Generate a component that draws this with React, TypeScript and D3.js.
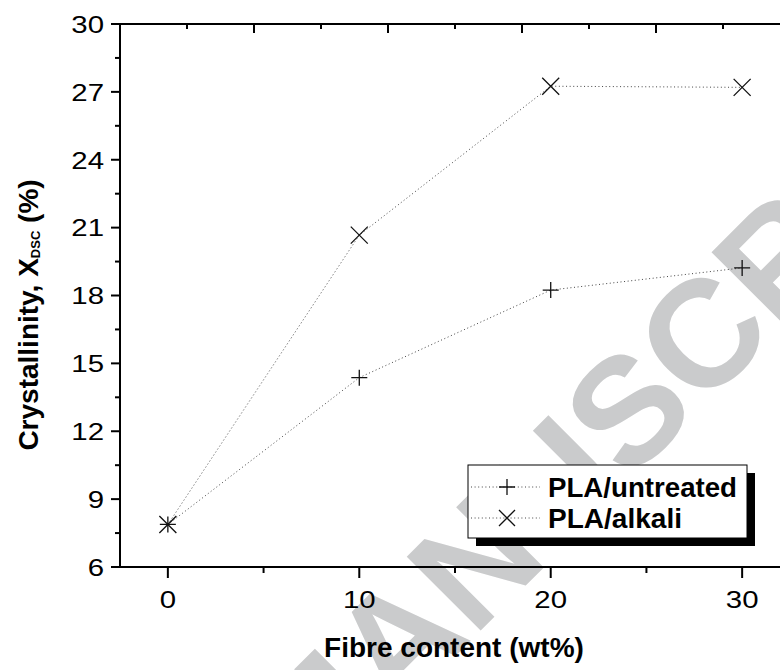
import React, { useEffect, useRef } from 'react';
import * as d3 from 'd3';

// fibre content (wt%)
const fibre = [0, 10, 20, 30];
const untreated = [7.88, 14.37, 18.24, 19.22];
const alkali = [7.88, 20.67, 27.25, 27.2];
const seriesNames = ['PLA/untreated', 'PLA/alkali'];
const yTicks = [6, 9, 12, 15, 18, 21, 24, 27, 30];
const xTicks = [0, 10, 20, 30];
const watermark = 'ACCEPTED MANUSCRIPT';

const FONT = '"Liberation Sans", Arial, sans-serif';

const App = () => {
  const svgRef = useRef<SVGSVGElement>(null);

  useEffect(() => {
    const svg = d3.select(svgRef.current);
    svg.selectAll('*').remove();

    const width = 780, height = 670;
    const left = 120, right = 790, top = 24, bottom = 567;

    const x = d3.scaleLinear().domain([-2.5, 32.5]).range([left, right]);
    const y = d3.scaleLinear().domain([6, 30]).range([bottom, top]);
    const xTop = d3.scaleLinear().domain([0, 10]).range([left, right]);

    svg.attr('width', width).attr('height', height);

    // watermark, the "S" of MANUSCRIPT centred near (626,408)
    const wg = svg.append('g').attr('transform', 'translate(626,408) rotate(-45)');
    const wt = wg.append('text')
      .attr('font-family', FONT)
      .attr('font-weight', 'bold')
      .attr('font-size', 152)
      .attr('fill', '#cacbcc')
      .attr('dy', '0.36em')
      .text(watermark);
    const tn = wt.node() as SVGTextElement;
    const s = tn.getStartPositionOfChar(13);
    const e = tn.getEndPositionOfChar(13);
    wt.attr('x', -(s.x + e.x) / 2);

    // data lines
    const line = d3.line<number>().x((d, i) => x(fibre[i])).y(d => y(d));
    [untreated, alkali].forEach(vals => {
      svg.append('path')
        .attr('d', line(vals))
        .attr('fill', 'none')
        .attr('stroke', '#444')
        .attr('stroke-width', 1)
        .attr('stroke-dasharray', '1,2.6');
    });

    const plus = (g, cx, cy, r) => {
      g.append('path')
        .attr('d', `M${cx - r},${cy}H${cx + r}M${cx},${cy - r}V${cy + r}`)
        .attr('stroke', '#111').attr('stroke-width', 1.3).attr('fill', 'none');
    };
    const cross = (g, cx, cy, r) => {
      g.append('path')
        .attr('d', `M${cx - r},${cy - r}L${cx + r},${cy + r}M${cx - r},${cy + r}L${cx + r},${cy - r}`)
        .attr('stroke', '#111').attr('stroke-width', 1.3).attr('fill', 'none');
    };

    untreated.forEach((v, i) => plus(svg, x(fibre[i]), y(v), 8));
    alkali.forEach((v, i) => cross(svg, x(fibre[i]), y(v), 8.5));

    // axes lines
    svg.append('line').attr('x1', left).attr('x2', left).attr('y1', top - 1).attr('y2', bottom + 1)
      .attr('stroke', '#000').attr('stroke-width', 2);
    svg.append('line').attr('x1', 111).attr('x2', right).attr('y1', bottom).attr('y2', bottom)
      .attr('stroke', '#000').attr('stroke-width', 2);
    svg.append('line').attr('x1', 111).attr('x2', right).attr('y1', top).attr('y2', top)
      .attr('stroke', '#000').attr('stroke-width', 2);

    // y ticks
    d3.range(6, 30.01, 1.5).forEach(v => {
      const major = v % 3 === 0;
      svg.append('line')
        .attr('x1', major ? 111 : 115).attr('x2', left)
        .attr('y1', y(v)).attr('y2', y(v))
        .attr('stroke', '#000').attr('stroke-width', 2);
    });
    yTicks.forEach(v => {
      svg.append('text')
        .attr('transform', `translate(104,${y(v)}) scale(1.2,1)`)
        .attr('dy', '0.36em')
        .attr('text-anchor', 'end')
        .attr('font-family', FONT)
        .attr('font-size', 24.5)
        .text(v);
    });

    // x ticks
    d3.range(0, 32.5, 5).forEach(v => {
      const major = v % 10 === 0;
      svg.append('line')
        .attr('x1', x(v)).attr('x2', x(v))
        .attr('y1', bottom).attr('y2', bottom + (major ? 11 : 6))
        .attr('stroke', '#000').attr('stroke-width', 2);
    });
    xTicks.forEach(v => {
      svg.append('text')
        .attr('transform', `translate(${x(v)},608) scale(1.2,1)`)
        .attr('text-anchor', 'middle')
        .attr('font-family', FONT)
        .attr('font-size', 24.5)
        .text(v);
    });

    // top ticks
    d3.range(1, 10).forEach(v => {
      const major = v % 2 === 0;
      svg.append('line')
        .attr('x1', xTop(v)).attr('x2', xTop(v))
        .attr('y1', top).attr('y2', top + (major ? 9 : 5))
        .attr('stroke', '#000').attr('stroke-width', 2);
    });

    // axis titles
    svg.append('text')
      .attr('x', 454)
      .attr('y', 657)
      .attr('text-anchor', 'middle')
      .attr('font-family', FONT)
      .attr('font-weight', 'bold')
      .attr('font-size', 28)
      .text('Fibre content (wt%)');

    const yt = svg.append('text')
      .attr('transform', 'translate(38,315) rotate(-90)')
      .attr('text-anchor', 'middle')
      .attr('font-family', FONT)
      .attr('font-weight', 'bold')
      .attr('font-size', 28);
    yt.append('tspan').text('Crystallinity, X');
    yt.append('tspan').attr('font-size', 13).attr('dy', 2).text('DSC');
    yt.append('tspan').attr('dy', -2).text(' (%)');

    // legend
    const lx = 468, ly = 465, lw = 279, lh = 73;
    svg.append('rect').attr('x', lx + 8).attr('y', ly + 8).attr('width', lw).attr('height', lh).attr('fill', '#000');
    svg.append('rect').attr('x', lx).attr('y', ly).attr('width', lw).attr('height', lh)
      .attr('fill', '#fff').attr('stroke', '#000').attr('stroke-width', 1);

    const rows = [487, 518];
    const lens = [189, 134];
    seriesNames.forEach((name, i) => {
      const ry = rows[i];
      svg.append('line').attr('x1', lx + 3).attr('x2', 540).attr('y1', ry).attr('y2', ry)
        .attr('stroke', '#444').attr('stroke-width', 1).attr('stroke-dasharray', '1,2.6');
      if (i === 0) plus(svg, 507, ry, 8);
      else cross(svg, 507, ry, 8);
      svg.append('text')
        .attr('x', 548)
        .attr('y', ry)
        .attr('dy', '0.36em')
        .attr('font-family', FONT)
        .attr('font-weight', 'bold')
        .attr('font-size', 27)
        .attr('textLength', lens[i])
        .attr('lengthAdjust', 'spacingAndGlyphs')
        .text(name);
    });
  }, []);

  return (
    <div style={{ position: 'absolute', left: 0, top: 0, width: 780, height: 670, background: '#fff' }}>
      <svg ref={svgRef} style={{ display: 'block' }} />
    </div>
  );
};

export default App;
